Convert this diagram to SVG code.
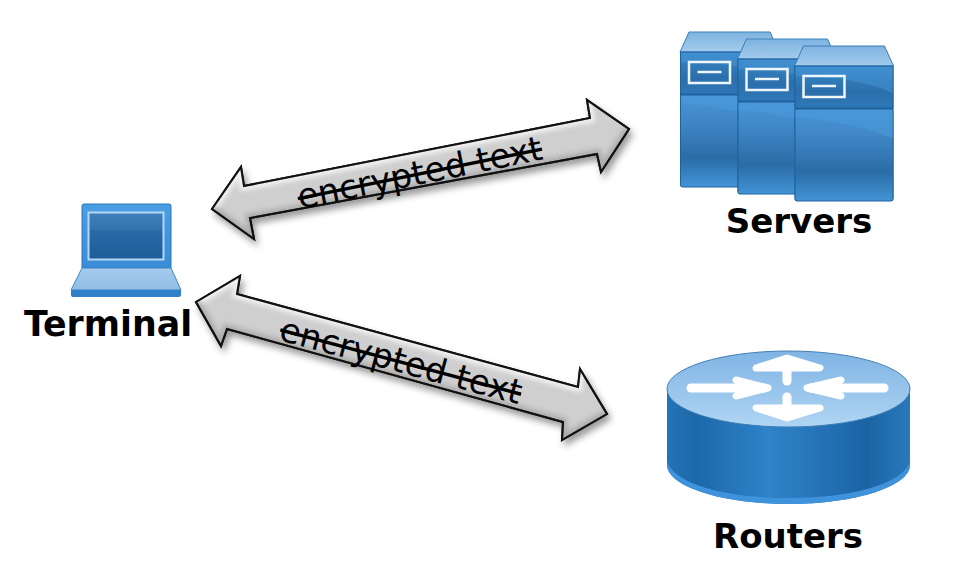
<svg xmlns="http://www.w3.org/2000/svg" xmlns:xlink="http://www.w3.org/1999/xlink" width="966" height="580" viewBox="0 0 966 580">
  <style>
    .label { font-family: "DejaVu Sans", Verdana, sans-serif; font-weight: 700; font-size: 34px; fill: #000; text-anchor: middle; }
    .wide { font-size: 34.800px; }
    .enc { font-family: "DejaVu Sans", Verdana, sans-serif; font-size: 33.800px; fill: #000; text-anchor: middle; text-decoration: line-through; text-decoration-thickness: 1px; }
    .arrow { fill: #cfcfcf; stroke: #111; stroke-width: 2; stroke-linejoin: miter; }
    .bevel { fill: none; stroke-width: 9; }
    .routerShaft { fill: none; stroke: #fff; stroke-width: 9; stroke-linecap: round; }
    .routerHead { fill: #fff; stroke: #fff; stroke-width: 7; stroke-linecap: round; stroke-linejoin: round; }
  </style>
  <defs>
    <filter id="soft" x="-20%" y="-20%" width="140%" height="140%"><feGaussianBlur stdDeviation="2.5"/></filter>
    <filter id="shadow" x="-10%" y="-20%" width="120%" height="150%">
      <feDropShadow dx="3" dy="5" stdDeviation="3.5" flood-color="#000" flood-opacity="0.4"/>
    </filter>
    <linearGradient id="bodyFill" x1="0" y1="0" x2="0" y2="1">
      <stop offset="0" stop-color="#4a96d6"/>
      <stop offset="0.3" stop-color="#3f86c6"/>
      <stop offset="0.68" stop-color="#2a6ca6"/>
      <stop offset="1" stop-color="#4394d6"/>
    </linearGradient>
    <linearGradient id="capFill" x1="0" y1="0" x2="0" y2="1">
      <stop offset="0" stop-color="#3a88c8"/>
      <stop offset="0.6" stop-color="#2a6fab"/>
      <stop offset="1" stop-color="#2f78b8"/>
    </linearGradient>
    <linearGradient id="topFill" x1="0" y1="0" x2="0" y2="1">
      <stop offset="0" stop-color="#7db3e0"/>
      <stop offset="1" stop-color="#a4cbec"/>
    </linearGradient>
    <linearGradient id="screenFill" x1="0" y1="0" x2="0" y2="1">
      <stop offset="0" stop-color="#3f80bd"/>
      <stop offset="0.35" stop-color="#3473ae"/>
      <stop offset="0.4" stop-color="#2869a8"/>
      <stop offset="1" stop-color="#1f5d99"/>
    </linearGradient>
    <linearGradient id="lidFill" x1="0" y1="0" x2="0" y2="1">
      <stop offset="0" stop-color="#4a9ee4"/>
      <stop offset="1" stop-color="#3a8cd6"/>
    </linearGradient>
    <linearGradient id="deckFill" x1="0" y1="0" x2="0" y2="1">
      <stop offset="0" stop-color="#a5cbec"/>
      <stop offset="1" stop-color="#90bde6"/>
    </linearGradient>
    <linearGradient id="discTop" x1="0" y1="0" x2="0" y2="1">
      <stop offset="0" stop-color="#7fb4e4"/>
      <stop offset="1" stop-color="#b0d5f3"/>
    </linearGradient>
    <linearGradient id="discSide" x1="0" y1="0" x2="1" y2="0">
      <stop offset="0" stop-color="#2474b8"/>
      <stop offset="0.12" stop-color="#1c68a8"/>
      <stop offset="0.42" stop-color="#2f83c9"/>
      <stop offset="0.82" stop-color="#1b64a4"/>
      <stop offset="1" stop-color="#2a78bc"/>
    </linearGradient>
    <clipPath id="clipUpper"><polygon points="212,209 241,167 244,186 590,118 587,100 629,129 601,172 597,154 250,218 254,239"/></clipPath>
    <clipPath id="clipLower"><polygon points="196,302 240,276 237,294 578,387 580,369 607,414 562,440 563,422 227,329 221,346"/></clipPath>
    <!-- Tower icon, drawn at the origin; width 99, height 156 -->
    <g id="tower">
      <path d="M9,0 H90 L99,20 V152 Q99,155 96,155 H3 Q0,155 0,152 V20 Z" fill="#1f639c"/>
      <polygon points="9,0 90,0 99,20 0,20" fill="url(#topFill)" stroke="#3f80b8" stroke-width="1"/>
      <rect x="0.500" y="20" width="98" height="42" fill="url(#capFill)" stroke="#1f639c" stroke-width="1"/>
      <path d="M1,21 H98 V47 Q60,30 1,30 Z" fill="#4a98da" opacity="0.45"/>
      <rect x="0.500" y="63" width="98" height="92" rx="2" fill="url(#bodyFill)" stroke="#1f639c" stroke-width="1"/>
      <path d="M1,64 H98 V92 Q50,74 1,71 Z" fill="#4a9adb" opacity="0.6"/>
      <rect x="9" y="30" width="41" height="21" fill="none" stroke="#eef5fb" stroke-width="2.500"/>
      <line x1="17.500" y1="40" x2="41.500" y2="40" stroke="#eef5fb" stroke-width="2.500"/>
    </g>
  </defs>

  <g id="connectors">
    <g id="link-upper">
      <polygon class="arrow" filter="url(#shadow)" points="212,209 241,167 244,186 590,118 587,100 629,129 601,172 597,154 250,218 254,239"/>
      <g clip-path="url(#clipUpper)">
        <polyline class="bevel" stroke="#ffffff" opacity="0.75" filter="url(#soft)" points="212,209 241,167 244,186 590,118 587,100"/>
        <polyline class="bevel" stroke="#8a8a8a" opacity="0.5" filter="url(#soft)" points="629,129 601,172 597,154 250,218 254,239 212,209"/>
      </g>
      <polygon fill="none" stroke="#111" stroke-width="2" points="212,209 241,167 244,186 590,118 587,100 629,129 601,172 597,154 250,218 254,239"/>
      <text class="enc" transform="translate(422,184) rotate(-11.500)">encrypted text</text>
    </g>
    <g id="link-lower">
      <polygon class="arrow" filter="url(#shadow)" points="196,302 240,276 237,294 578,387 580,369 607,414 562,440 563,422 227,329 221,346"/>
      <g clip-path="url(#clipLower)">
        <polyline class="bevel" stroke="#ffffff" opacity="0.75" filter="url(#soft)" points="196,302 240,276 237,294 578,387 580,369"/>
        <polyline class="bevel" stroke="#8a8a8a" opacity="0.5" filter="url(#soft)" points="607,414 562,440 563,422 227,329 221,346 196,302"/>
      </g>
      <polygon fill="none" stroke="#111" stroke-width="2" points="196,302 240,276 237,294 578,387 580,369 607,414 562,440 563,422 227,329 221,346"/>
      <text class="enc" transform="translate(398,372) rotate(15)">encrypted text</text>
    </g>
  </g>

  <g id="node-terminal">
    <path d="M82,206 Q82,204 84,204 H169 Q171,204 171,206 V268 H82 Z" fill="url(#lidFill)" stroke="#2a75b5" stroke-width="1"/>
    <rect x="88.500" y="212.500" width="75" height="47" fill="url(#screenFill)" stroke="#b4d8f4" stroke-width="2"/>
    <polygon points="82,268 171,268 181,290 71,290" fill="url(#deckFill)" stroke="#3f88c8" stroke-width="1"/>
    <path d="M71,290 H181 V295 Q181,297 178,297 H74 Q71,297 71,295 Z" fill="#2f80c8"/>
    <text class="label wide" x="108" y="336">Terminal</text>
  </g>

  <g id="node-servers">
    <use xlink:href="#tower" href="#tower" x="680" y="32"/>
    <use xlink:href="#tower" href="#tower" x="737.500" y="39"/>
    <use xlink:href="#tower" href="#tower" x="794.500" y="46"/>
    <text class="label" x="799" y="233">Servers</text>
  </g>

  <g id="node-routers">
    <path d="M667,389 V465 C667,486 721,504 788.500,504 C856,504 910,486 910,465 V389 Z" fill="url(#discSide)"/>
    <path d="M667,462 C675,484 725,498 788.500,498 C852,498 902,484 910,462 V465 C910,486 856,504 788.500,504 C721,504 667,486 667,465 Z" fill="#3f93dc"/>
    <ellipse cx="788.500" cy="389" rx="121.500" ry="38" fill="url(#discTop)" stroke="#3f7fb5" stroke-width="1"/>
    <path class="routerShaft" d="M691,388 H764"/>
    <path class="routerHead" d="M736,380 L768,388 L736,396 L750,388 Z"/>
    <path class="routerShaft" d="M884,388 H811"/>
    <path class="routerHead" d="M841,380 L807,388 L841,396 L827,388 Z"/>
    <path class="routerShaft" d="M787,381 V362"/>
    <path class="routerHead" d="M756,368 L787,358 L820,368 L787,368 Z"/>
    <path class="routerShaft" d="M787,397 V414"/>
    <path class="routerHead" d="M756,408 L787,418 L820,408 L787,408 Z"/>
    <text class="label" x="788" y="548">Routers</text>
  </g>
</svg>
